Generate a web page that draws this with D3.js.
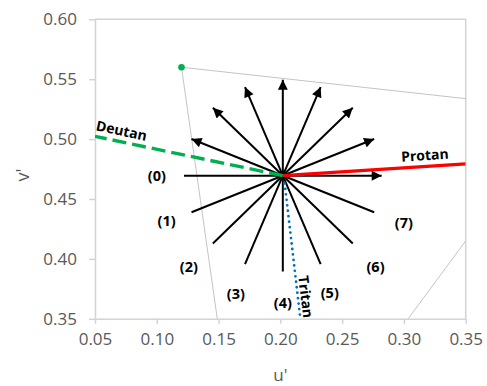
<!DOCTYPE html>
<html>
<head>
<meta charset="utf-8">
<script src="https://cdn.jsdelivr.net/npm/d3@7"></script>
<style>
  html, body { margin: 0; padding: 0; background: #fff; }
  svg { display: block; }
</style>
</head>
<body>
<svg id="chart" width="487" height="386"></svg>
<script>
// u'v' chromaticity: stimulus directions around the adapting white,
// display gamut edges and the three dichromat confusion lines.

const xTicks = [0.05, 0.10, 0.15, 0.20, 0.25, 0.30, 0.35];
const yTicks = [0.35, 0.40, 0.45, 0.50, 0.55, 0.60];

// direction lines (0)..(7): lower end (labelled) and upper end (arrow)
const dirIds   = ["(0)", "(1)", "(2)", "(3)", "(4)", "(5)", "(6)", "(7)"];
const startU   = [0.122, 0.1281, 0.1454, 0.1714, 0.202, 0.2326, 0.2586, 0.2759];
const startV   = [0.4695, 0.4389, 0.4129, 0.3956, 0.3895, 0.3956, 0.4129, 0.4389];
const endU     = [0.282, 0.2759, 0.2586, 0.2326, 0.202, 0.1714, 0.1454, 0.1281];
const endV     = [0.4695, 0.5001, 0.5261, 0.5434, 0.5495, 0.5434, 0.5261, 0.5001];
const labelU   = [0.100, 0.108, 0.126, 0.164, 0.202, 0.240, 0.277, 0.300];
const labelV   = [0.470, 0.432, 0.394, 0.371, 0.364, 0.372, 0.394, 0.430];

// display gamut primaries (G, R, B)
const gamutU = [0.120, 0.4287, 0.1739];
const gamutV = [0.560, 0.5248, 0.1694];

// confusion lines through the white point, to the frame edge
const deutanU = [0.202, 0.050];
const deutanV = [0.4695, 0.5023];
const protanU = [0.202, 0.350];
const protanV = [0.4695, 0.4793];
const tritanU = [0.2035, 0.2162];
const tritanV = [0.4630, 0.350];

const svg = d3.select("#chart");
const plotLeft = 95, plotRight = 465.7, plotTop = 19.3, plotBottom = 318.8;

const x = d3.scaleLinear().domain([0.05, 0.35]).range([plotLeft, plotRight]);
const y = d3.scaleLinear().domain([0.35, 0.60]).range([plotBottom, plotTop]);

const axisColor = "#d3d3d3";
const textColor = "#595959";

const defs = svg.append("defs");
defs.append("clipPath").attr("id", "plotClip")
  .append("rect").attr("x", plotLeft).attr("y", plotTop)
  .attr("width", plotRight - plotLeft).attr("height", plotBottom - plotTop);

defs.append("marker")
  .attr("id", "arrowHead")
  .attr("viewBox", "0 0 10 10")
  .attr("refX", 10).attr("refY", 5)
  .attr("markerUnits", "userSpaceOnUse")
  .attr("markerWidth", 12).attr("markerHeight", 10)
  .attr("orient", "auto")
  .append("path").attr("d", "M0,0 L10,5 L0,10 Z").attr("fill", "#000");

// axes
const xAxis = d3.axisBottom(x).tickValues(xTicks).tickSize(5).tickSizeOuter(0)
  .tickPadding(9).tickFormat(d3.format(".2f"));
const yAxis = d3.axisLeft(y).tickValues(yTicks).tickSize(6).tickSizeOuter(0)
  .tickPadding(12).tickFormat(d3.format(".2f"));

const gx = svg.append("g").attr("transform", `translate(0,${plotBottom})`).call(xAxis);
const gy = svg.append("g").attr("transform", `translate(${plotLeft},0)`).call(yAxis);
[gx, gy].forEach(g => {
  g.select(".domain").attr("stroke", axisColor).attr("stroke-width", 1.5);
  g.selectAll(".tick line").attr("stroke", axisColor).attr("stroke-width", 1.5);
  g.selectAll(".tick text").attr("fill", textColor)
    .style("font-family", "'Open Sans', sans-serif").style("font-size", "17px");
});

// frame top and right
svg.append("path")
  .attr("d", `M${plotLeft},${plotTop} H${plotRight} V${plotBottom}`)
  .attr("fill", "none").attr("stroke", axisColor).attr("stroke-width", 1.5);

// axis titles
svg.append("text").text("u'")
  .attr("x", x(0.20)).attr("y", 381).attr("text-anchor", "middle")
  .attr("fill", textColor).style("font-family", "'Open Sans', sans-serif").style("font-size", "17px");
svg.append("text").text("v'")
  .attr("transform", `translate(29,${y(0.47)}) rotate(-90)`).attr("text-anchor", "middle")
  .attr("fill", textColor).style("font-family", "'Open Sans', sans-serif").style("font-size", "18px");

const plot = svg.append("g").attr("clip-path", "url(#plotClip)");

// gamut triangle
const gamutPts = gamutU.map((u, i) => [x(u), y(gamutV[i])]);
plot.append("path")
  .attr("d", d3.line()(gamutPts) + "Z")
  .attr("fill", "none").attr("stroke", "#c4c4c4").attr("stroke-width", 1);

// direction arrows
plot.selectAll("line.dir").data(dirIds).join("line")
  .attr("class", "dir")
  .attr("x1", (d, i) => x(startU[i])).attr("y1", (d, i) => y(startV[i]))
  .attr("x2", (d, i) => x(endU[i])).attr("y2", (d, i) => y(endV[i]))
  .attr("stroke", "#000").attr("stroke-width", 2)
  .attr("marker-end", "url(#arrowHead)");

const lineGen = d3.line().x(d => x(d[0])).y(d => y(d[1]));

// deutan
plot.append("path")
  .attr("d", lineGen(deutanU.map((u, i) => [u, deutanV[i]])))
  .attr("fill", "none").attr("stroke", "#00b050").attr("stroke-width", 3.4)
  .attr("stroke-dasharray", "14,6");

// protan
plot.append("path")
  .attr("d", lineGen(protanU.map((u, i) => [u, protanV[i]])))
  .attr("fill", "none").attr("stroke", "#ff0000").attr("stroke-width", 3.4);

// tritan
plot.append("path")
  .attr("d", lineGen(tritanU.map((u, i) => [u, tritanV[i]])))
  .attr("fill", "none").attr("stroke", "#0070c0").attr("stroke-width", 2.8)
  .attr("stroke-linecap", "round").attr("stroke-dasharray", "0,5.5");

// green primary
svg.append("circle")
  .attr("cx", x(gamutU[0])).attr("cy", y(gamutV[0])).attr("r", 3.3)
  .attr("fill", "#00b050");

// direction labels
const labelFont = "'Open Sans', sans-serif";
svg.selectAll("text.dirLabel").data(dirIds).join("text")
  .attr("class", "dirLabel")
  .attr("x", (d, i) => x(labelU[i])).attr("y", (d, i) => y(labelV[i]))
  .attr("text-anchor", "middle").attr("dominant-baseline", "central")
  .style("font-family", labelFont).style("font-size", "14.5px").style("font-weight", "bold")
  .attr("fill", "#000").text(d => d);

// confusion line labels
function lineLabel(text, u, v, angle) {
  svg.append("text")
    .attr("transform", `translate(${x(u)},${y(v)}) rotate(${angle})`)
    .attr("text-anchor", "middle").attr("dominant-baseline", "central")
    .style("font-family", labelFont).style("font-size", "14px").style("font-weight", "bold")
    .attr("fill", "#000").text(text);
}
lineLabel("Deutan", 0.0716, 0.5075, 12);
lineLabel("Protan", 0.3169, 0.4870, -3.7);
lineLabel("Tritan", 0.2209, 0.3684, 83);
</script>
</body>
</html>
